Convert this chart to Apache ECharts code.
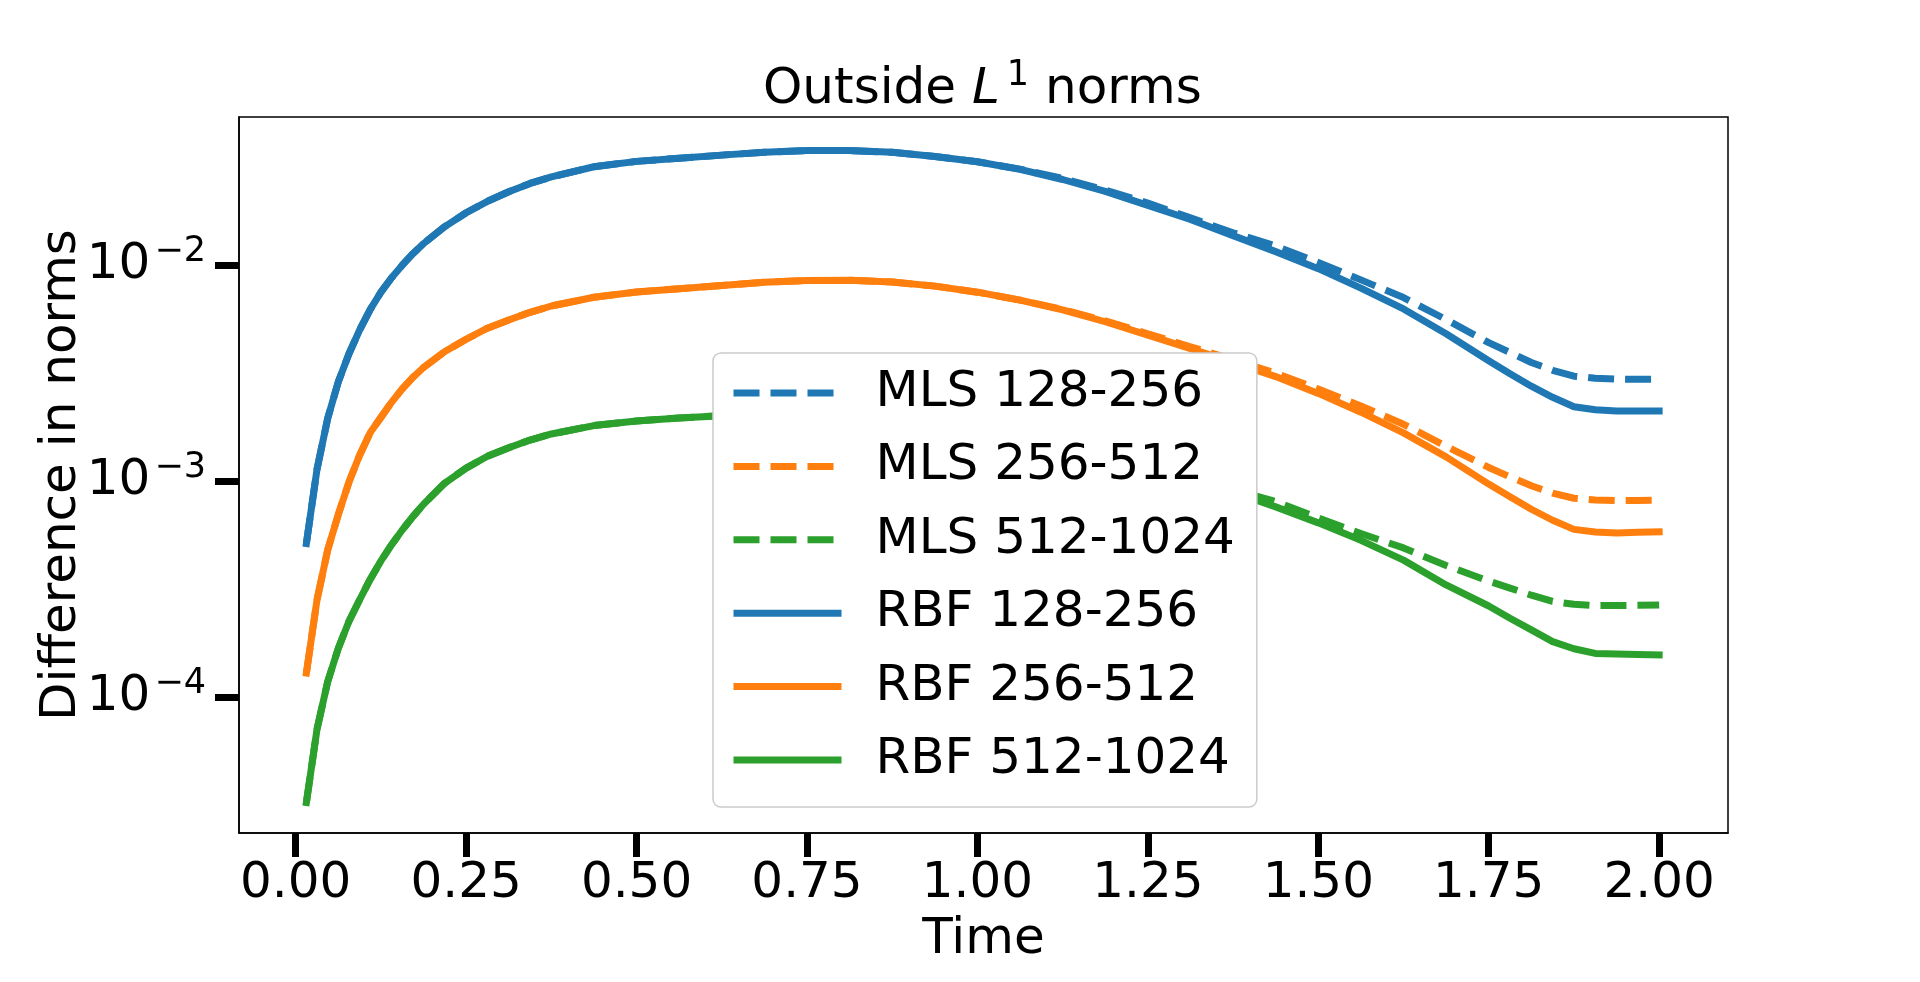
<!DOCTYPE html>
<html lang="en">
<head>
<meta charset="UTF-8">
<title>Outside L1 norms</title>
<script src="https://cdn.jsdelivr.net/npm/echarts@6/dist/echarts.min.js"></script>
<style>
  html, body { margin: 0; padding: 0; background: #fff; }
  #container { width: 1920px; height: 982px; }
</style>
</head>
<body>
<div id="container"></div>
<script>
// time samples
var times = [0.015625, 0.03125, 0.046875, 0.0625, 0.078125, 0.09375, 0.109375, 0.125, 0.140625, 0.15625,
             0.171875, 0.1875, 0.21875, 0.25, 0.28125, 0.3125, 0.34375, 0.375, 0.4375, 0.5,
             0.5625, 0.625, 0.6875, 0.75, 0.8125, 0.875, 0.9375, 1.0, 1.0625, 1.125,
             1.1875, 1.25, 1.3125, 1.375, 1.4375, 1.5, 1.5625, 1.625, 1.6875, 1.75,
             1.78125, 1.8125, 1.84375, 1.875, 1.90625, 1.9375, 1.96875, 2.0];

var mls128 = [5.13e-4, 1.135e-3, 1.95e-3, 2.884e-3, 3.89e-3, 5.01e-3, 6.24e-3, 7.50e-3, 8.75e-3, 1.00e-2,
              1.130e-2, 1.259e-2, 1.510e-2, 1.750e-2, 1.977e-2, 2.188e-2, 2.393e-2, 2.564e-2, 2.858e-2, 3.027e-2,
              3.133e-2, 3.236e-2, 3.334e-2, 3.396e-2, 3.396e-2, 3.334e-2, 3.192e-2, 3.013e-2, 2.786e-2, 2.523e-2,
              2.228e-2, 1.941e-2, 1.656e-2, 1.413e-2, 1.227e-2, 1.030e-2, 8.55e-3, 7.08e-3, 5.60e-3, 4.375e-3,
              3.94e-3, 3.54e-3, 3.26e-3, 3.06e-3, 2.992e-3, 2.965e-3, 2.958e-3, 2.958e-3];
var mls256 = [1.288e-4, 2.818e-4, 4.786e-4, 7.00e-4, 9.89e-4, 1.318e-3, 1.679e-3, 1.972e-3, 2.317e-3, 2.673e-3,
              3.020e-3, 3.357e-3, 3.981e-3, 4.539e-3, 5.105e-3, 5.57e-3, 6.05e-3, 6.47e-3, 7.10e-3, 7.52e-3,
              7.78e-3, 8.05e-3, 8.34e-3, 8.49e-3, 8.51e-3, 8.36e-3, 8.00e-3, 7.50e-3, 6.89e-3, 6.24e-3,
              5.52e-3, 4.81e-3, 4.19e-3, 3.65e-3, 3.162e-3, 2.667e-3, 2.228e-3, 1.832e-3, 1.449e-3, 1.156e-3,
              1.045e-3, 9.51e-4, 8.79e-4, 8.32e-4, 8.17e-4, 8.11e-4, 8.13e-4, 8.17e-4];
var mls512 = [3.236e-5, 7.08e-5, 1.175e-4, 1.679e-4, 2.239e-4, 2.818e-4, 3.508e-4, 4.266e-4, 5.07e-4, 5.93e-4,
              6.84e-4, 7.80e-4, 9.79e-4, 1.148e-3, 1.303e-3, 1.426e-3, 1.549e-3, 1.652e-3, 1.807e-3, 1.897e-3,
              1.959e-3, 2.009e-3, 2.075e-3, 2.118e-3, 2.123e-3, 2.084e-3, 1.995e-3, 1.871e-3, 1.718e-3, 1.549e-3,
              1.365e-3, 1.183e-3, 1.042e-3, 9.12e-4, 8.04e-4, 6.75e-4, 5.71e-4, 4.90e-4, 4.06e-4, 3.44e-4,
              3.19e-4, 2.958e-4, 2.767e-4, 2.685e-4, 2.649e-4, 2.649e-4, 2.655e-4, 2.667e-4];
var rbf128 = [5.13e-4, 1.135e-3, 1.95e-3, 2.884e-3, 3.89e-3, 5.01e-3, 6.24e-3, 7.50e-3, 8.75e-3, 1.00e-2,
              1.130e-2, 1.259e-2, 1.510e-2, 1.750e-2, 1.977e-2, 2.188e-2, 2.393e-2, 2.564e-2, 2.858e-2, 3.027e-2,
              3.133e-2, 3.236e-2, 3.334e-2, 3.396e-2, 3.396e-2, 3.334e-2, 3.192e-2, 3.013e-2, 2.780e-2, 2.495e-2,
              2.198e-2, 1.892e-2, 1.629e-2, 1.371e-2, 1.156e-2, 9.64e-3, 7.83e-3, 6.27e-3, 4.81e-3, 3.61e-3,
              3.14e-3, 2.75e-3, 2.443e-3, 2.208e-3, 2.138e-3, 2.113e-3, 2.109e-3, 2.109e-3];
var rbf256 = [1.288e-4, 2.818e-4, 4.786e-4, 7.00e-4, 9.89e-4, 1.318e-3, 1.679e-3, 1.972e-3, 2.317e-3, 2.673e-3,
              3.020e-3, 3.357e-3, 3.981e-3, 4.539e-3, 5.105e-3, 5.57e-3, 6.05e-3, 6.47e-3, 7.10e-3, 7.52e-3,
              7.78e-3, 8.05e-3, 8.34e-3, 8.49e-3, 8.51e-3, 8.36e-3, 8.00e-3, 7.50e-3, 6.89e-3, 6.21e-3,
              5.47e-3, 4.74e-3, 4.11e-3, 3.548e-3, 3.048e-3, 2.547e-3, 2.084e-3, 1.671e-3, 1.294e-3, 9.68e-4,
              8.45e-4, 7.40e-4, 6.58e-4, 5.97e-4, 5.81e-4, 5.75e-4, 5.79e-4, 5.82e-4];
var rbf512 = [3.236e-5, 7.08e-5, 1.175e-4, 1.679e-4, 2.239e-4, 2.818e-4, 3.508e-4, 4.266e-4, 5.07e-4, 5.93e-4,
              6.84e-4, 7.80e-4, 9.79e-4, 1.148e-3, 1.303e-3, 1.426e-3, 1.549e-3, 1.652e-3, 1.807e-3, 1.897e-3,
              1.959e-3, 2.009e-3, 2.075e-3, 2.118e-3, 2.123e-3, 2.084e-3, 1.995e-3, 1.871e-3, 1.718e-3, 1.549e-3,
              1.365e-3, 1.183e-3, 1.026e-3, 8.91e-4, 7.59e-4, 6.40e-4, 5.31e-4, 4.30e-4, 3.30e-4, 2.636e-4,
              2.312e-4, 2.042e-4, 1.803e-4, 1.671e-4, 1.589e-4, 1.581e-4, 1.570e-4, 1.563e-4];

var seriesNames = ['MLS 128-256', 'MLS 256-512', 'MLS 512-1024', 'RBF 128-256', 'RBF 256-512', 'RBF 512-1024'];
var xTicks = [0, 0.25, 0.5, 0.75, 1.0, 1.25, 1.5, 1.75, 2.0];
var yTicks = [1e-4, 1e-3, 1e-2];

var font = 'DejaVu Sans';
var blue = '#1f77b4', orange = '#ff7f0e', green = '#2ca02c';
var dash = [26, 11];

function pairs(vals) {
    return times.map(function (t, i) { return [t, vals[i]]; });
}

function lineSeries(name, vals, color, dashed) {
    return {
        name: name,
        type: 'line',
        data: pairs(vals),
        symbol: 'none',
        showSymbol: false,
        smooth: false,
        itemStyle: { color: color },
        lineStyle: { color: color, width: 7, type: dashed ? dash : 'solid', cap: dashed ? 'butt' : 'square', join: 'round' }
    };
}

// legend entries: plain line handles, no marker
var legendItems = seriesNames.map(function (n, i) {
    return {
        name: n,
        itemStyle: { opacity: 0 },
        lineStyle: { width: 7, type: i < 3 ? dash : 'solid', cap: 'butt' }
    };
});

var dom = document.getElementById('container');
var myChart = echarts.init(dom);

var option = {
    animation: false,
    backgroundColor: '#fff',
    title: {
        text: 'Outside {i|L}{s|1} norms',
        left: 763,
        top: 65,
        padding: 0,
        textStyle: {
            fontFamily: font, fontSize: 50, fontWeight: 'normal', color: '#000', lineHeight: 50,
            rich: {
                i: { fontFamily: font, fontSize: 50, fontStyle: 'italic', color: '#000', lineHeight: 50 },
                s: { fontFamily: font, fontSize: 35, color: '#000', lineHeight: 20, padding: [0, 0, 29, 7] }
            }
        }
    },
    grid: {
        left: 239, right: 192, top: 117, bottom: 149,
        show: true, borderColor: '#000', borderWidth: 1.5, backgroundColor: 'transparent'
    },
    legend: {
        orient: 'vertical',
        left: 713, top: 353,
        padding: [12, 22, 19, 17],
        itemWidth: 108, itemHeight: 20, itemGap: 17.4,
        backgroundColor: '#fff',
        borderColor: '#cccccc', borderWidth: 1.5, borderRadius: 8,
        selectedMode: false,
        itemStyle: { opacity: 0 },
        textStyle: { fontFamily: font, fontSize: 50, color: '#000', lineHeight: 56, padding: [0, 0, 0, 29] },
        data: legendItems
    },
    xAxis: {
        type: 'value',
        min: -0.0832, max: 2.101,
        name: 'Time', nameLocation: 'middle', nameGap: 82, nameMoveOverlap: false,
        nameTextStyle: { fontFamily: font, fontSize: 50, color: '#000' },
        axisLine: { show: true, onZero: false, lineStyle: { color: '#000', width: 1.5 } },
        axisTick: { show: true, length: 24, customValues: xTicks, lineStyle: { color: '#000', width: 7 } },
        axisLabel: {
            customValues: xTicks, margin: 26,
            fontFamily: font, fontSize: 50, color: '#000',
            formatter: function (v) { return v.toFixed(2); }
        },
        splitLine: { show: false }
    },
    yAxis: {
        type: 'log', logBase: 10,
        min: 2.34e-5, max: 4.86e-2,
        name: 'Difference in norms', nameLocation: 'middle', nameGap: 152, nameMoveOverlap: false,
        nameTextStyle: { fontFamily: font, fontSize: 50, color: '#000' },
        axisLine: { show: true, onZero: false, lineStyle: { color: '#000', width: 1.5 } },
        axisTick: { show: true, length: 24, customValues: yTicks, lineStyle: { color: '#000', width: 7 } },
        minorTick: { show: false },
        axisLabel: {
            customValues: yTicks, margin: 33,
            formatter: function (v) {
                var e = Math.round(Math.log10(v));
                return '{b|10}{s|\u2212' + (-e) + '}';
            },
            rich: {
                b: { fontFamily: font, fontSize: 50, color: '#000', lineHeight: 50 },
                s: { fontFamily: font, fontSize: 35, color: '#000', lineHeight: 24, padding: [0, 0, 26, 4] }
            }
        },
        splitLine: { show: false }
    },
    series: [
        lineSeries(seriesNames[0], mls128, blue, true),
        lineSeries(seriesNames[1], mls256, orange, true),
        lineSeries(seriesNames[2], mls512, green, true),
        lineSeries(seriesNames[3], rbf128, blue, false),
        lineSeries(seriesNames[4], rbf256, orange, false),
        lineSeries(seriesNames[5], rbf512, green, false)
    ]
};

if (option && typeof option === 'object') {
    myChart.setOption(option, true);
}
</script>
</body>
</html>
